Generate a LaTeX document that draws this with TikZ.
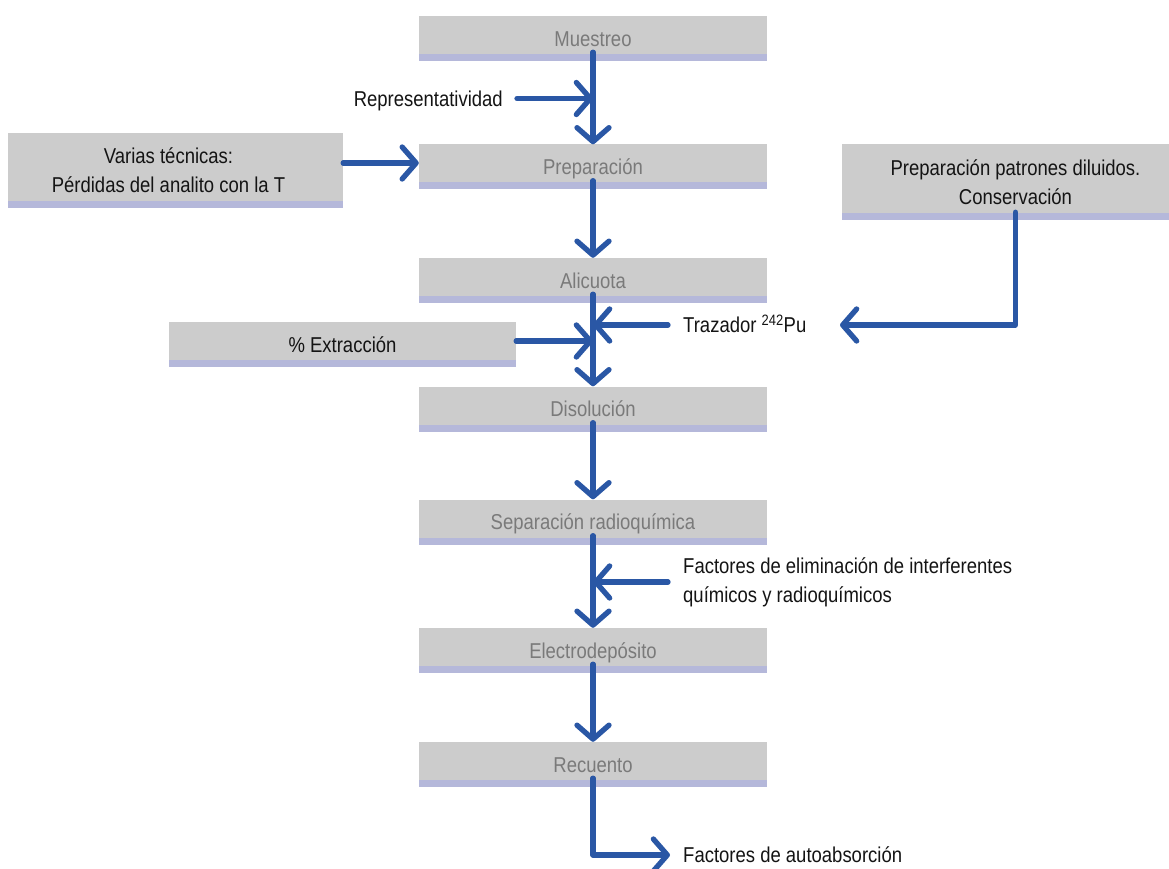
\documentclass[tikz,border=0pt]{standalone}
\usepackage{fontspec}
\setmainfont{Liberation Sans}[FakeStretch=0.86]
\usetikzlibrary{arrows.meta}
\definecolor{boxgray}{HTML}{CCCCCC}
\definecolor{lav}{HTML}{B5B8DA}
\definecolor{flowblue}{HTML}{2A57A5}
\definecolor{txtgray}{HTML}{7A7A7A}
\definecolor{txtblack}{HTML}{141414}
\newcommand\fsz{\fontsize{21.5pt}{29pt}\selectfont}
\tikzset{
  strip/.style={path picture={\fill[lav] (path picture bounding box.south west) rectangle ([yshift=7pt]path picture bounding box.south east);}},
  mainbox/.style={rectangle, inner sep=0pt, minimum width=348pt, minimum height=45pt, fill=boxgray, strip, text=txtgray, font=\fsz, text height=15.5pt, text depth=0pt},
  sidebox/.style={rectangle, inner sep=0pt, fill=boxgray, strip, text=txtblack, font=\fsz, align=center},
  lbl/.style={inner sep=0pt, text=txtblack, font=\fsz, text height=15.5pt, text depth=0pt},
  lblml/.style={inner sep=0pt, text=txtblack, font=\fsz, align=left},
  flow/.style={draw=flowblue, line width=5.3pt, line cap=round, line join=round, -{Straight Barb[length=14pt,width=32pt,line cap=round,line join=round]}}
}
\begin{document}
\begin{tikzpicture}[x=1pt,y=-1pt]
\useasboundingbox (0,0) rectangle (1169,869);
% main chain
\node[mainbox] (mue) at (593,38.5) {Muestreo};
\node[mainbox] (prep) at (593,167) {Preparación};
\node[mainbox] (ali) at (593,280.5) {Alicuota};
\node[mainbox] (dis) at (593,409) {Disolución};
\node[mainbox] (sep) at (593,522) {Separación radioquímica};
\node[mainbox] (ele) at (593,650.5) {Electrodepósito};
\node[mainbox] (rec) at (593,764.5) {Recuento};
% side boxes
\node[sidebox, minimum width=335pt, minimum height=75pt] (var) at (175.5,170.5) {Varias técnicas:\hspace*{14pt}\\Pérdidas del analito con la T\hspace*{14pt}};
\node[sidebox, minimum width=347pt, minimum height=45pt, text height=15.5pt, text depth=0pt] (ext) at (342.5,344.5) {\% Extracción};
\node[sidebox, minimum width=347pt, minimum height=76pt] (pat) at (1015.5,182) {Preparación patrones diluidos.\\Conservación};
% labels
\node[lbl, anchor=east] (rep) at (503,98.5) {Representatividad};
\node[lbl, anchor=west] (traz) at (683,325) {Trazador \textsuperscript{242}Pu};
\node[lblml, anchor=west] (fel) at (683,582) {Factores de eliminación de interferentes\\químicos y radioquímicos};
\node[lbl, anchor=west] (fau) at (683,855) {Factores de autoabsorción};
\coordinate (tzend) at (840,325);
% main flow
\draw[flow] ([yshift=9pt]mue.south) -- (prep.north);
\draw[flow] ([yshift=9pt]prep.south) -- (ali.north);
\draw[flow] ([yshift=9pt]ali.south) -- (dis.north);
\draw[flow] ([yshift=9pt]dis.south) -- (sep.north);
\draw[flow] ([yshift=9pt]sep.south) -- (ele.north);
\draw[flow] ([yshift=9pt]ele.south) -- (rec.north);
\draw[flow] ([yshift=9pt]rec.south) |- ([xshift=-13pt]fau.west);
% side inputs
\draw[flow] ([xshift=14pt]rep.east) -- (rep.east -| mue.south);
\draw[flow] ([yshift=4pt]prep.west -| var.east) -- ([yshift=4pt]prep.west);
\draw[flow] ([xshift=-15pt]traz.west) -- (traz.west -| ali.south);
\draw[flow] ([yshift=3.5pt]ext.east) -- ([yshift=3.5pt]ext.east -| ali.south);
\draw[flow] ([xshift=-15pt]fel.west) -- (fel.west -| sep.south);
\draw[flow] ([yshift=8pt]pat.south) |- (tzend);
\end{tikzpicture}
\end{document}
